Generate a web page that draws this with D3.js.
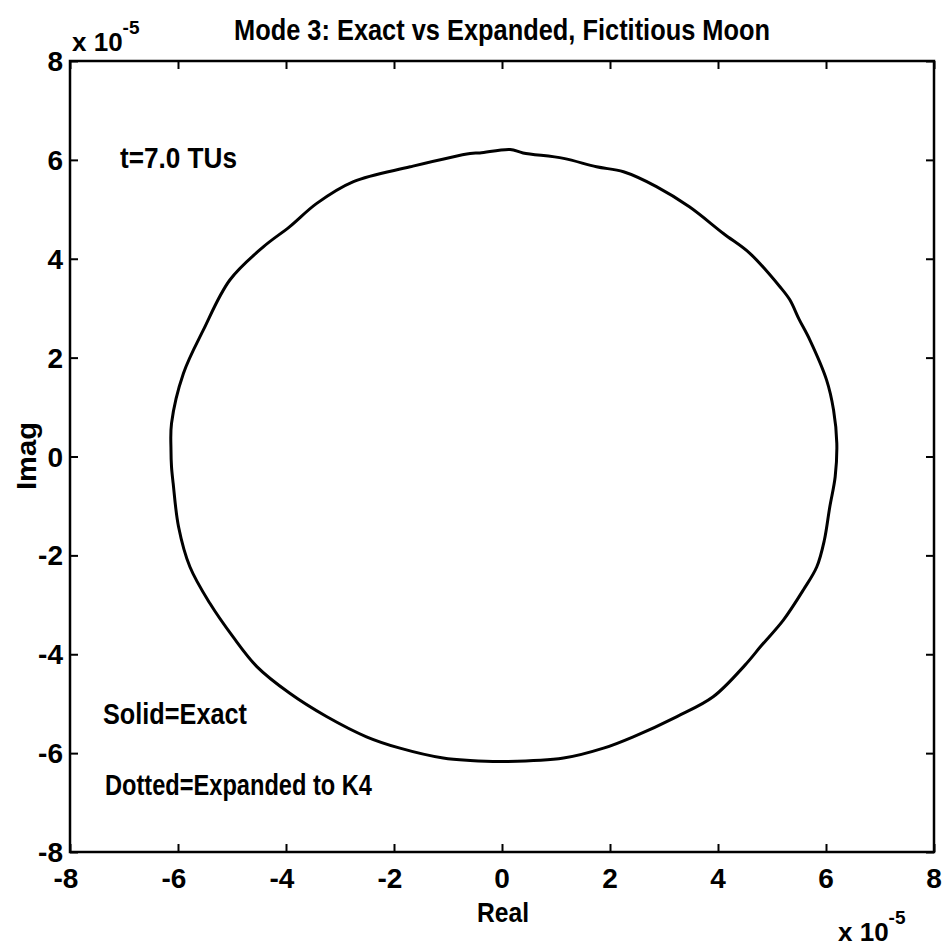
<!DOCTYPE html>
<html>
<head>
<meta charset="utf-8">
<script src="https://cdn.jsdelivr.net/npm/d3@7"></script>
<style>
  html, body { margin: 0; padding: 0; background: #fff; }
  svg { display: block; }
  text { font-family: "Liberation Sans", Arial, Helvetica, sans-serif; font-weight: bold; fill: #000; }
</style>
</head>
<body>
<svg id="chart" width="945" height="949"></svg>
<script>
// ---- data (values in units of 1e-5) ----
const realVals = [0.15, 0.39, 1.14, 1.75, 2.25, 2.86, 3.47, 4.10, 4.59, 5.15, 5.33, 5.50, 5.70, 6.01, 6.14, 6.20, 6.17, 6.07, 5.97, 5.83, 5.58, 5.21, 4.80, 4.50, 3.91, 3.24, 2.43, 1.88, 1.14, 0.02, -0.59, -1.09, -1.89, -2.51, -3.25, -3.93, -4.54, -4.98, -5.41, -5.78, -5.99, -6.09, -6.12, -6.13, -6.12, -5.90, -5.53, -5.04, -4.42, -3.93, -3.43, -2.75, -1.70, -0.59, -0.41];
const imagVals = [6.21, 6.14, 6.03, 5.86, 5.76, 5.46, 5.05, 4.51, 4.11, 3.43, 3.17, 2.78, 2.36, 1.55, 0.94, 0.27, -0.41, -1.02, -1.69, -2.23, -2.70, -3.31, -3.83, -4.22, -4.86, -5.26, -5.67, -5.90, -6.10, -6.17, -6.15, -6.10, -5.90, -5.67, -5.26, -4.79, -4.25, -3.65, -2.97, -2.23, -1.42, -0.54, -0.21, 0.13, 0.67, 1.68, 2.56, 3.57, 4.24, 4.65, 5.12, 5.56, 5.86, 6.13, 6.14];
const xTicks = [-8, -6, -4, -2, 0, 2, 4, 6, 8];
const yTicks = [-8, -6, -4, -2, 0, 2, 4, 6, 8];
const titleText = "Mode 3: Exact vs Expanded, Fictitious Moon";
const xLabel = "Real";
const yLabel = "Imag";
const notes = ["t=7.0 TUs", "Solid=Exact", "Dotted=Expanded to K4"];

// ---- layout ----
const svg = d3.select("#chart");
const L = 70, R = 934, T = 61, B = 852;
const x = d3.scaleLinear().domain([-8, 8]).range([L, R]);
const y = d3.scaleLinear().domain([-8, 8]).range([B, T]);
const tickLen = 8;
const fs = 27;

// frame
svg.append("rect").attr("x", L).attr("y", T).attr("width", R - L).attr("height", B - T)
  .attr("fill", "none").attr("stroke", "#000").attr("stroke-width", 2.5);

// axes (inward ticks) using d3 axes
const axB = svg.append("g").attr("transform", `translate(0,${B})`)
  .call(d3.axisTop(x).tickValues(xTicks).tickSize(tickLen).tickFormat(""));
const axT = svg.append("g").attr("transform", `translate(0,${T})`)
  .call(d3.axisBottom(x).tickValues(xTicks).tickSize(tickLen).tickFormat(""));
const axL = svg.append("g").attr("transform", `translate(${L},0)`)
  .call(d3.axisRight(y).tickValues(yTicks).tickSize(tickLen).tickFormat(""));
const axR = svg.append("g").attr("transform", `translate(${R},0)`)
  .call(d3.axisLeft(y).tickValues(yTicks).tickSize(tickLen).tickFormat(""));
[axB, axT, axL, axR].forEach(g => {
  g.select(".domain").remove();
  g.selectAll(".tick line").attr("stroke", "#000").attr("stroke-width", 2);
});

// tick labels
svg.append("g").selectAll("text").data(xTicks).join("text")
  .attr("x", d => x(d) + (d < 0 ? -4 : 0)).attr("y", B + 36)
  .attr("text-anchor", "middle").attr("font-size", 28).text(d => d);
svg.append("g").selectAll("text").data(yTicks).join("text")
  .attr("x", L - 7).attr("y", d => y(d) + 10)
  .attr("text-anchor", "end").attr("font-size", 28).text(d => d);

// exponent labels
const expTop = svg.append("text").attr("x", 72).attr("y", 51).attr("font-size", 26);
expTop.append("tspan").text("x 10");
expTop.append("tspan").attr("dy", -17).attr("font-size", 19).text("-5");
const expBot = svg.append("text").attr("x", 838).attr("y", 941).attr("font-size", 26);
expBot.append("tspan").text("x 10");
expBot.append("tspan").attr("dy", -17).attr("font-size", 19).text("-5");

// title and axis labels
svg.append("text").attr("x", 502).attr("y", 40).attr("text-anchor", "middle")
  .attr("font-size", 29).attr("textLength", 536).attr("lengthAdjust", "spacingAndGlyphs")
  .text(titleText);
svg.append("text").attr("x", 503).attr("y", 922).attr("text-anchor", "middle")
  .attr("font-size", 28).attr("textLength", 52).attr("lengthAdjust", "spacingAndGlyphs").text(xLabel);
svg.append("text").attr("transform", `translate(36,456) rotate(-90)`).attr("text-anchor", "middle")
  .attr("font-size", 28).attr("textLength", 68).attr("lengthAdjust", "spacingAndGlyphs").text(yLabel);

// annotations
const notePos = [[120, 168, 117], [103, 724, 144], [105, 795, 267]];
notes.forEach((t, i) => {
  svg.append("text").attr("x", notePos[i][0]).attr("y", notePos[i][1])
    .attr("font-size", 29).attr("textLength", notePos[i][2]).attr("lengthAdjust", "spacingAndGlyphs")
    .text(t);
});

// curve
const pts = realVals.map((v, i) => [v, imagVals[i]]);
const line = d3.line().x(d => x(d[0])).y(d => y(d[1])).curve(d3.curveCatmullRomClosed.alpha(0.5));
svg.append("path").datum(pts).attr("d", line)
  .attr("fill", "none").attr("stroke", "#000").attr("stroke-width", 3).attr("stroke-linejoin", "round");
</script>
</body>
</html>
